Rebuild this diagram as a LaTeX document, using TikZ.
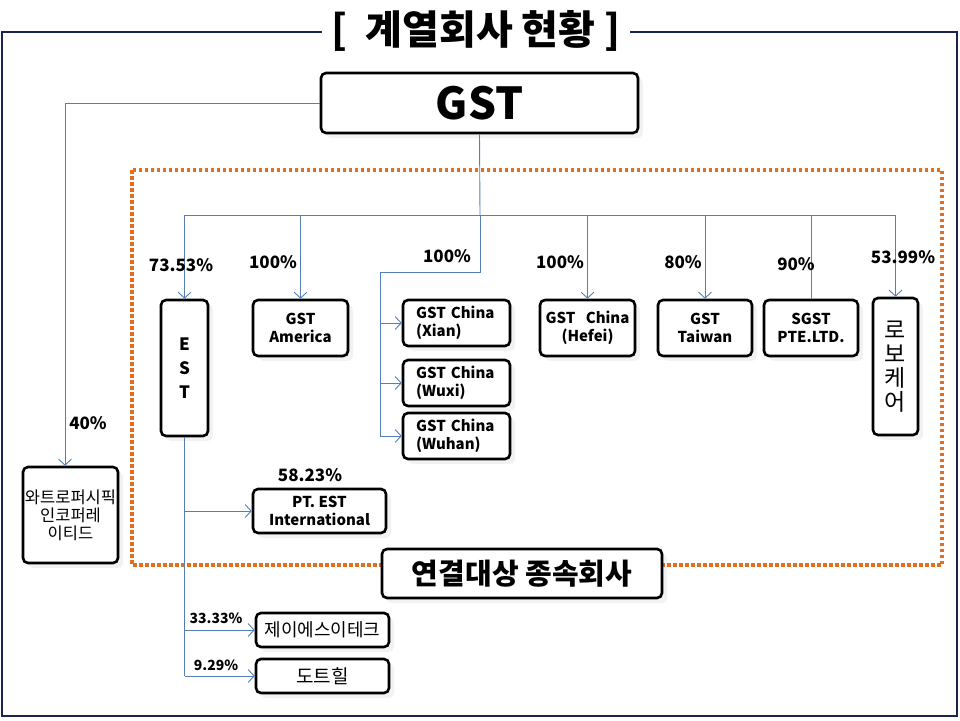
\documentclass[tikz,border=0pt]{standalone}
\usepackage{fontspec}
\setmainfont{Noto Sans CJK KR}
\usepackage{tikz}
\usetikzlibrary{arrows.meta, shadows, calc}

\definecolor{framenavy}{RGB}{22,36,78}
\definecolor{linkblue}{RGB}{84,126,184}
\definecolor{dotorange}{RGB}{226,110,30}

\tikzset{
  company/.style={draw=black, line width=2.6pt, rounded corners=5pt, fill=white,
    align=center, inner sep=0pt, font=\fontsize{15}{18}\selectfont\bfseries,
    drop shadow={opacity=0.10, shadow xshift=5pt, shadow yshift=-5pt}},
  link/.style={draw=linkblue, line width=0.9pt},
  arr/.style={link, -{Straight Barb[length=6pt,width=13pt]}},
  pct/.style={font=\fontsize{17}{20}\selectfont\bfseries, inner sep=0pt},
  smallpct/.style={font=\fontsize{14}{16}\selectfont\bfseries, inner sep=0pt},
  frameline/.style={draw=framenavy, line width=2pt},
  dotline/.style={draw=dotorange, line width=3.5pt, dash pattern=on 3.5pt off 2.5pt},
}

\begin{document}
\begin{tikzpicture}[x=1pt, y=-1pt]
  \useasboundingbox (0,0) rectangle (960,720);

  % Outer frame with the title
  \node[font=\fontsize{40}{44}\selectfont\bfseries, inner xsep=9pt, inner ysep=0pt] (title) at (476,31) {[\ \ 계열회사 현황 ]};
  \draw[frameline] (title.west |- 0,32) -- (2,32) -- (2,716) -- (957,716) -- (957,32) -- (title.east |- 0,32);

  % Dotted region of the consolidated subsidiaries
  \draw[dotline] (132,170) rectangle (942,565);

  % Parent company
  \node[company, minimum width=317pt, minimum height=60pt, font=\fontsize{44}{48}\selectfont\bfseries] (gst) at (479.5,103) {GST};

  % Subsidiaries
  \node[company, minimum width=47pt, minimum height=136pt, font=\fontsize{17}{24}\selectfont\bfseries] (est) at (184.5,368) {E\\S\\T};
  \node[company, minimum width=95pt, minimum height=56pt] (america) at (300.5,328) {GST\\America};
  \node[company, minimum width=107pt, minimum height=46pt, text width=81pt, align=left] (xian) at (456.5,323) {GST China\\(Xian)};
  \node[company, minimum width=107pt, minimum height=46pt, text width=81pt, align=left] (wuxi) at (456.5,383) {GST China\\(Wuxi)};
  \node[company, minimum width=107pt, minimum height=46pt, text width=81pt, align=left] (wuhan) at (456.5,436) {GST China\\(Wuhan)};
  \node[company, minimum width=95pt, minimum height=56pt] (hefei) at (587.5,328) {GST\ \ \ China\\(Hefei)};
  \node[company, minimum width=94pt, minimum height=56pt] (taiwan) at (705,328) {GST\\Taiwan};
  \node[company, minimum width=94pt, minimum height=56pt] (sgst) at (811,328) {SGST\\PTE.LTD.};
  \node[company, minimum width=45pt, minimum height=137pt, font=\fontsize{23}{24}\selectfont] (robo) at (895.5,366.5) {로\\보\\케\\어};
  \node[company, minimum width=133pt, minimum height=44pt] (ptest) at (319.5,511) {PT. EST\\International};
  \node[company, minimum width=95pt, minimum height=96pt, font=\fontsize{16.5}{18}\selectfont] (watro) at (70.5,515) {와트로퍼시픽\\인코퍼레\\이티드};
  \node[company, minimum width=133pt, minimum height=34pt, font=\fontsize{18}{20}\selectfont] (jst) at (322.5,630) {제이에스이테크};
  \node[company, minimum width=133pt, minimum height=34pt, font=\fontsize{19}{20}\selectfont] (dothill) at (322.5,676) {도트힐};

  % Group label on the dotted line
  \node[company, minimum width=280pt, minimum height=49pt, font=\fontsize{29}{32}\selectfont\bfseries] (group) at (522,573.5) {연결대상 종속회사};

  % Connectors from GST
  \coordinate (bus) at (480,215);
  \coordinate (cn) at (380,272);
  \draw[arr] (gst.west) -| ([xshift=-5.5pt]watro.north);
  \draw[link] (gst.south) -- (bus);
  \draw[link] (est.north |- bus) -- (robo.north |- bus);
  \draw[arr] (est.north |- bus) -- (est.north);
  \draw[arr] (america.north |- bus) -- (america.north);
  \draw[arr] (hefei.north |- bus) -- (hefei.north);
  \draw[arr] (taiwan.north |- bus) -- (taiwan.north);
  \draw[link] (sgst.north |- bus) -- (sgst.north);
  \draw[arr] (robo.north |- bus) -- (robo.north);
  \draw[link] (bus) |- (cn) -- (cn |- wuhan.west);
  \draw[arr] (cn |- xian.west) -- (xian.west);
  \draw[arr] (cn |- wuxi.west) -- (wuxi.west);
  \draw[arr] (cn |- wuhan.west) -- (wuhan.west);

  % Connectors from EST
  \draw[link] (est.south) -- (est.south |- dothill.west);
  \draw[arr] (est.south |- ptest.west) -- (ptest.west);
  \draw[arr] (est.south |- jst.west) -- (jst.west);
  \draw[arr] (est.south |- dothill.west) -- (dothill.west);

  % Shares
  \node[pct] (p-watro) at (88,423) {40\%};
  \node[pct] (p-est) at (181,265) {73.53\%};
  \node[pct] (p-america) at (273,262) {100\%};
  \node[pct] (p-china) at (447,256) {100\%};
  \node[pct] (p-hefei) at (560,262) {100\%};
  \node[pct] (p-taiwan) at (683,262) {80\%};
  \node[pct] (p-sgst) at (796,264) {90\%};
  \node[pct] (p-robo) at (903,257) {53.99\%};
  \node[pct] (p-ptest) at (310,475) {58.23\%};
  \node[smallpct] (p-jst) at (216,618) {33.33\%};
  \node[smallpct] (p-dothill) at (216,665) {9.29\%};
\end{tikzpicture}
\end{document}
